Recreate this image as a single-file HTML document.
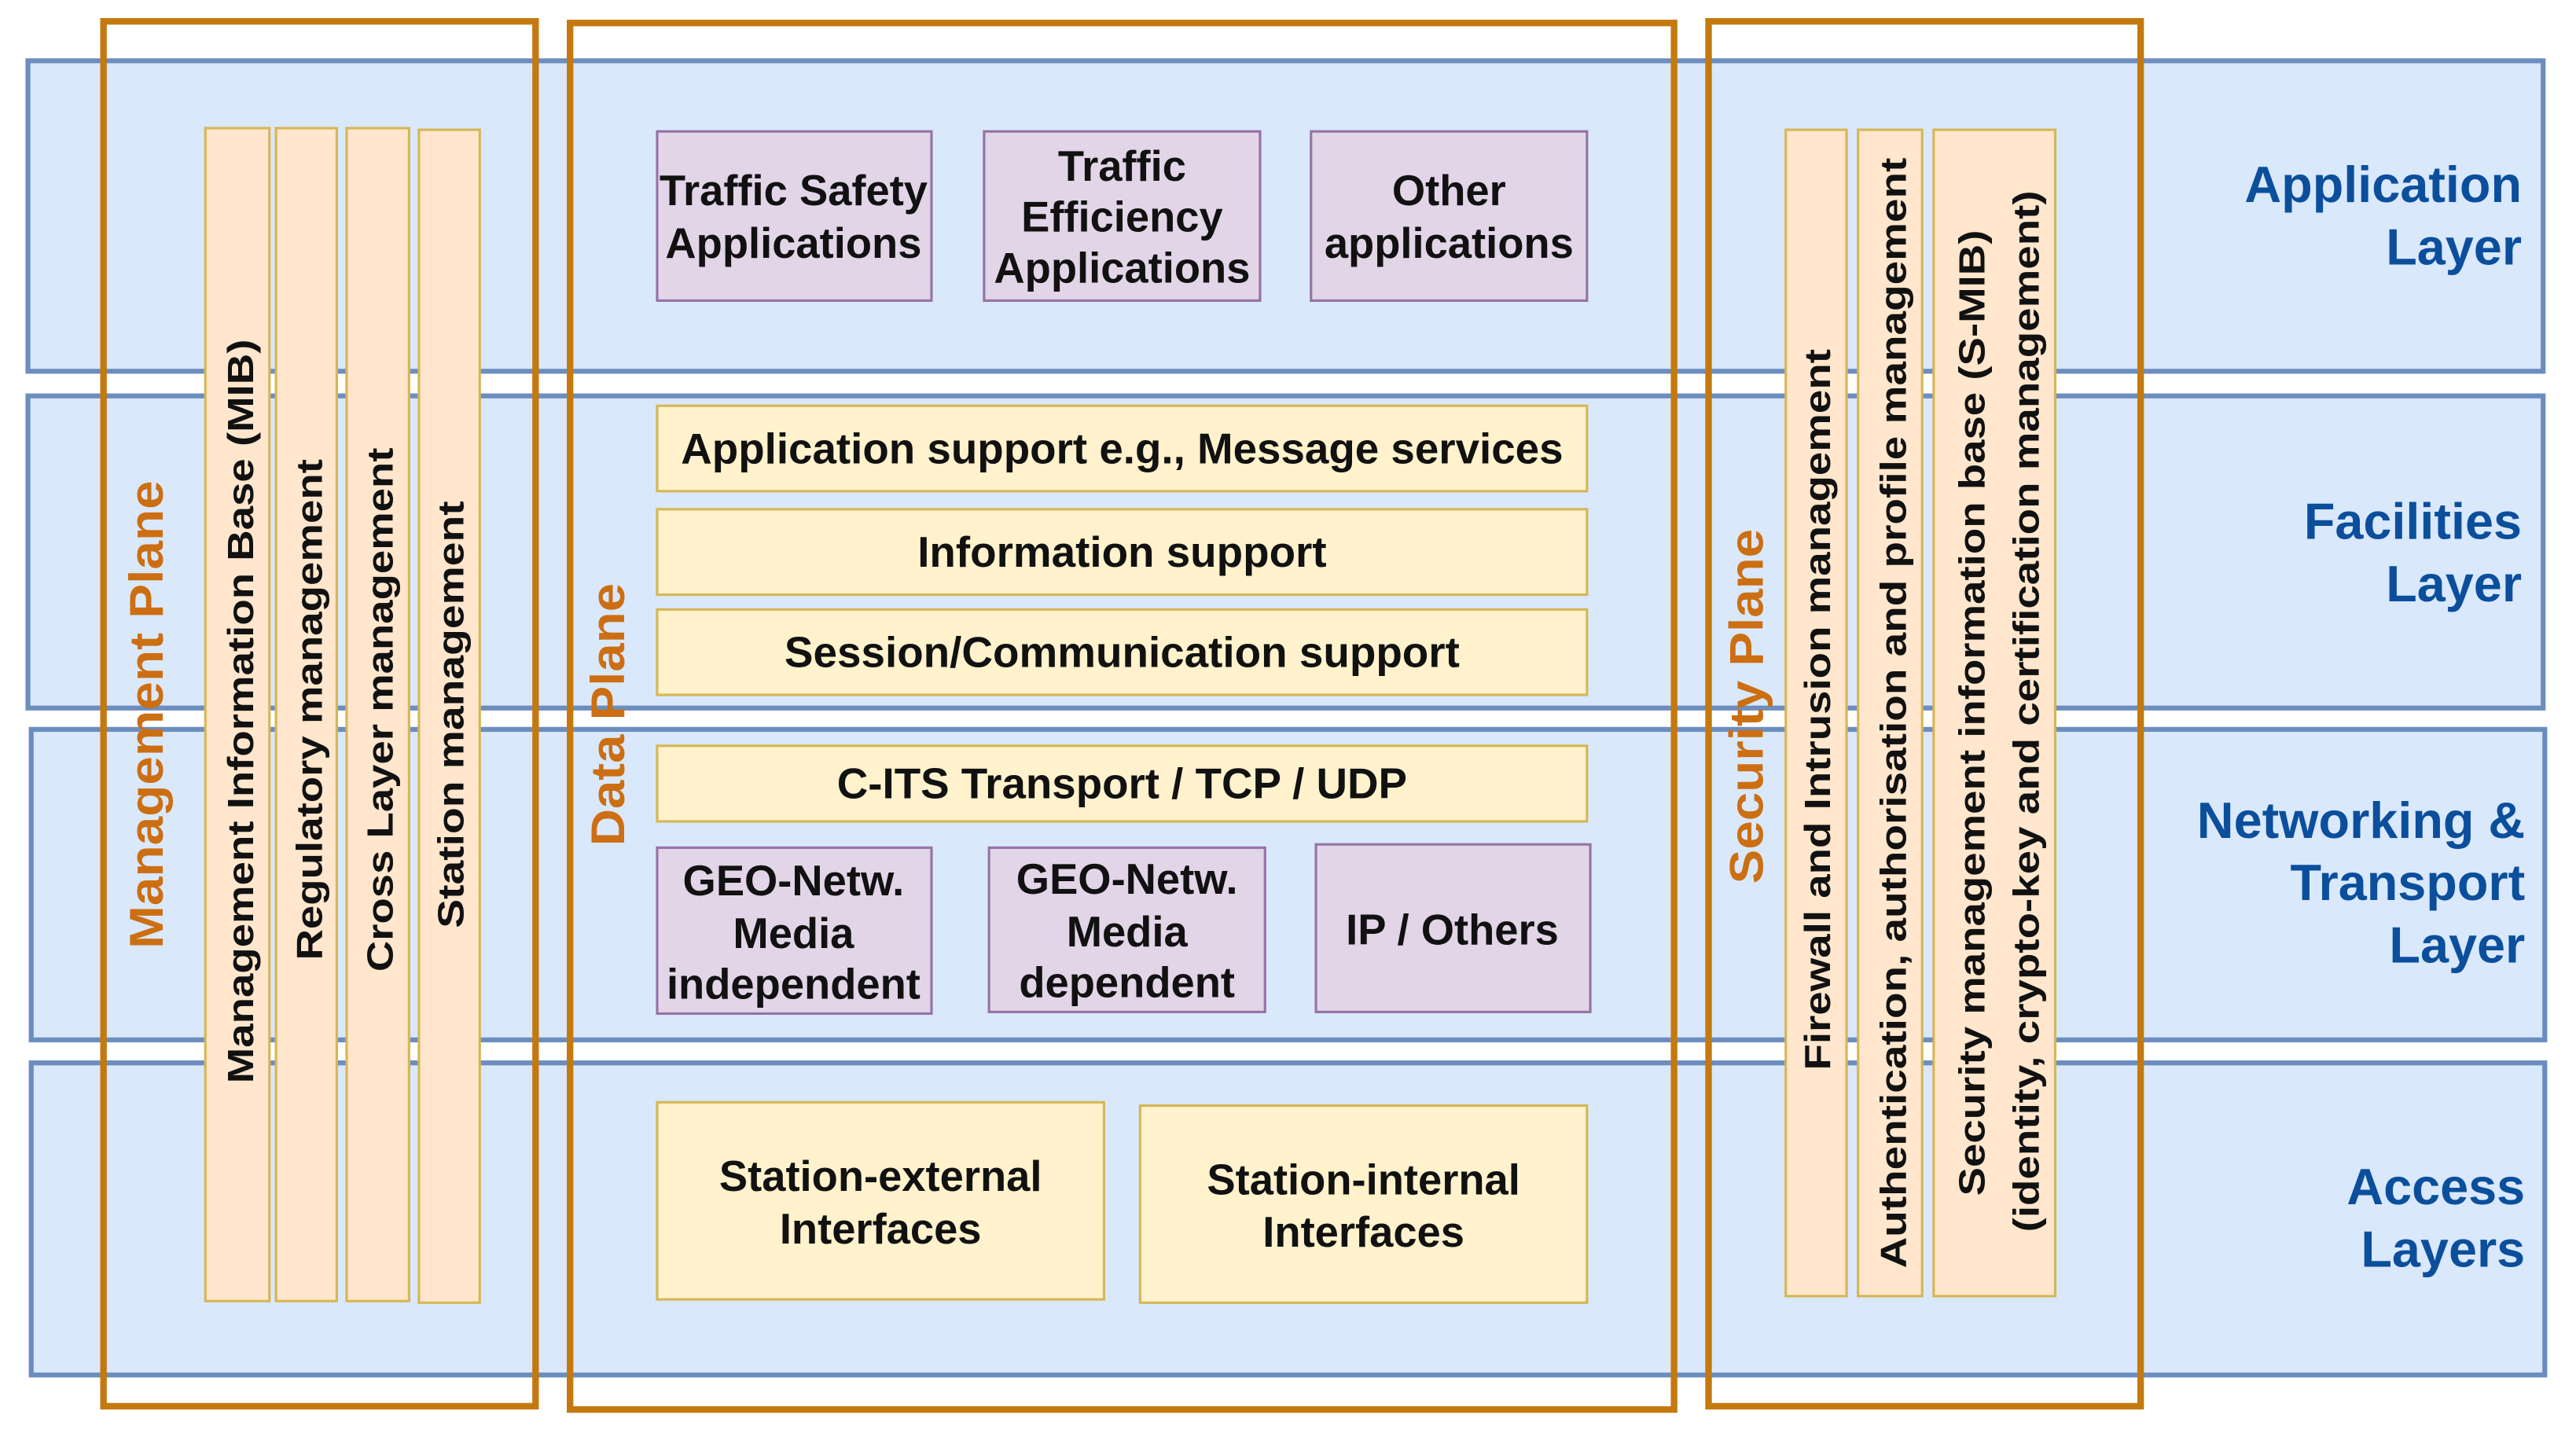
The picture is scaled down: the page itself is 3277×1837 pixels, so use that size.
<!DOCTYPE html>
<html><head><meta charset="utf-8"><style>
html,body{margin:0;padding:0;background:#fff}
svg{display:block}
text{font-family:"Liberation Sans",Arial,sans-serif;font-weight:bold}
</style></head><body>
<svg width="3277" height="1837" viewBox="0 0 1568 879" preserveAspectRatio="none" xmlns="http://www.w3.org/2000/svg">
<rect width="1568" height="879" fill="#fff"/>
<g fill="#dae8fc" stroke="#6c8ebf" stroke-width="3">
<rect x="17" y="37" width="1531" height="189"/>
<rect x="17" y="241" width="1531" height="190"/>
<rect x="19" y="444" width="1530" height="189"/>
<rect x="19" y="647" width="1530" height="190"/>
</g>
<g fill="#ffe6cc" stroke="#d6b656" stroke-width="1.5">
<rect x="125" y="78" width="39" height="714"/>
<rect x="168" y="78" width="37" height="714"/>
<rect x="211" y="78" width="38" height="714"/>
<rect x="255" y="79" width="37" height="714"/>
<rect x="1087" y="79" width="37" height="710"/>
<rect x="1131" y="79" width="39" height="710"/>
<rect x="1177" y="79" width="74" height="710"/>
</g>
<g fill="#e1d5e7" stroke="#9673a6" stroke-width="1.5">
<rect x="400" y="80" width="167" height="103"/>
<rect x="599" y="80" width="168" height="103"/>
<rect x="798" y="80" width="168" height="103"/>
<rect x="400" y="516" width="167" height="101"/>
<rect x="602" y="516" width="168" height="100"/>
<rect x="801" y="514" width="167" height="102"/>
</g>
<g fill="#fff2cc" stroke="#d6b656" stroke-width="1.5">
<rect x="400" y="247" width="566" height="52"/>
<rect x="400" y="310" width="566" height="52"/>
<rect x="400" y="371" width="566" height="52"/>
<rect x="400" y="454" width="566" height="46"/>
<rect x="400" y="671" width="272" height="120"/>
<rect x="694" y="673" width="272" height="120"/>
</g>
<g fill="none" stroke="#c4790f" stroke-width="4">
<rect x="63" y="13" width="263" height="843"/>
<rect x="347" y="14" width="672" height="844"/>
<rect x="1040" y="13" width="263" height="843"/>
</g>
<g fill="#111" font-size="26" text-anchor="middle">
<text x="483" y="125">Traffic Safety</text><text x="483" y="157">Applications</text>
<text x="683" y="110">Traffic</text><text x="683" y="141">Efficiency</text><text x="683" y="172">Applications</text>
<text x="882" y="125">Other</text><text x="882" y="157">applications</text>
<text x="683" y="282" textLength="537" lengthAdjust="spacingAndGlyphs">Application support e.g., Message services</text>
<text x="683" y="345" textLength="249" lengthAdjust="spacingAndGlyphs">Information support</text>
<text x="683" y="406" textLength="411" lengthAdjust="spacingAndGlyphs">Session/Communication support</text>
<text x="683" y="486" textLength="347" lengthAdjust="spacingAndGlyphs">C-ITS Transport / TCP / UDP</text>
<text x="483" y="545">GEO-Netw.</text><text x="483" y="577">Media</text><text x="483" y="608">independent</text>
<text x="686" y="544">GEO-Netw.</text><text x="686" y="576">Media</text><text x="686" y="607">dependent</text>
<text x="884" y="575">IP / Others</text>
<text x="536" y="725">Station-external</text><text x="536" y="757">Interfaces</text>
<text x="830" y="727">Station-internal</text><text x="830" y="759">Interfaces</text>
</g>
<g fill="#111" font-size="22" text-anchor="middle">
<text transform="translate(154,433) rotate(-90)" textLength="453" lengthAdjust="spacingAndGlyphs">Management Information Base (MIB)</text>
<text transform="translate(196,432) rotate(-90)" textLength="305" lengthAdjust="spacingAndGlyphs">Regulatory management</text>
<text transform="translate(239,432) rotate(-90)" textLength="319" lengthAdjust="spacingAndGlyphs">Cross Layer management</text>
<text transform="translate(282,435) rotate(-90)" textLength="260" lengthAdjust="spacingAndGlyphs">Station management</text>
<text transform="translate(1114,432) rotate(-90)" textLength="439" lengthAdjust="spacingAndGlyphs">Firewall and Intrusion management</text>
<text transform="translate(1160,434) rotate(-90)" textLength="676" lengthAdjust="spacingAndGlyphs">Authentication, authorisation and profile management</text>
<text transform="translate(1208,434) rotate(-90)" textLength="588" lengthAdjust="spacingAndGlyphs">Security management information base (S-MIB)</text>
<text transform="translate(1241,433) rotate(-90)" textLength="634" lengthAdjust="spacingAndGlyphs">(identity, crypto-key and certification management)</text>
</g>
<g fill="#cc6e12" font-size="29" text-anchor="middle">
<text transform="translate(99,435) rotate(-90)" textLength="285" lengthAdjust="spacingAndGlyphs">Management Plane</text>
<text transform="translate(380,435) rotate(-90)" textLength="160" lengthAdjust="spacingAndGlyphs">Data Plane</text>
<text transform="translate(1073,430) rotate(-90)" textLength="216" lengthAdjust="spacingAndGlyphs">Security Plane</text>
</g>
<g fill="#0b4f9c" font-size="31" text-anchor="end">
<text x="1535" y="123">Application</text><text x="1535" y="161">Layer</text>
<text x="1535" y="328">Facilities</text><text x="1535" y="366">Layer</text>
<text x="1537" y="510">Networking &amp;</text><text x="1537" y="548">Transport</text><text x="1537" y="586">Layer</text>
<text x="1537" y="733">Access</text><text x="1537" y="771">Layers</text>
</g>
</svg>
</body></html>
